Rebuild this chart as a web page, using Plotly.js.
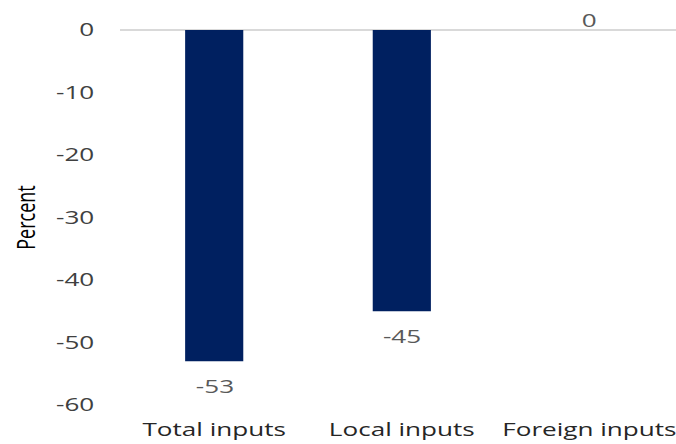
<!DOCTYPE html>
<html>
<head>
<meta charset="utf-8">
<script src="https://cdn.plot.ly/plotly-3.0.1.min.js"></script>
<style>
  html, body { margin: 0; padding: 0; background: #ffffff; overflow: hidden; }
  /* the chart is drawn narrow and stretched horizontally to the 676px frame */
  #chart { width: 471px; height: 444px; transform: scaleX(1.4506); transform-origin: 0 0; }
</style>
</head>
<body>
<div id="chart"></div>
<script>
// Change in inputs, percent
const categories = ["Total inputs", "Local inputs", "Foreign inputs"];
const values = [-53, -45, 0];
const yTicks = [0, -10, -20, -30, -40, -50, -60];

const FONT = "Open Sans, sans-serif";

const trace = {
  type: "bar",
  x: categories,
  y: values,
  marker: { color: "#002060" },
  hoverinfo: "x+y"
};

// value labels placed just past the end of each bar
const labels = categories.map((c, i) => ({
  x: c,
  y: values[i],
  xref: "x",
  yref: "y",
  text: String(values[i]),
  showarrow: false,
  yanchor: "middle",
  yshift: values[i] < 0 ? -25 : 10,
  font: { family: FONT, size: 18, color: "#595959" }
}));

const layout = {
  width: 471,
  height: 444,
  margin: { l: 83, r: 0, t: 30, b: 39 },
  paper_bgcolor: "#ffffff",
  plot_bgcolor: "#ffffff",
  bargap: 0.69,
  showlegend: false,
  font: { family: FONT, color: "#404040" },
  annotations: labels,
  xaxis: {
    showgrid: false,
    showline: false,
    zeroline: false,
    ticks: "",
    ticklabelstandoff: 12,
    tickfont: { size: 18, color: "#262626" }
  },
  yaxis: {
    range: [-60, 0],
    tickvals: yTicks,
    ticktext: yTicks.map(v => String(v)),
    showgrid: false,
    zeroline: true,
    zerolinecolor: "#d9d9d9",
    zerolinewidth: 2,
    showline: false,
    ticks: "",
    ticklabelstandoff: 17,
    tickfont: { size: 18, color: "#404040" },
    title: { text: "Percent", font: { size: 18, color: "#000000" }, standoff: 9 }
  }
};

Plotly.newPlot("chart", [trace], layout, { displayModeBar: false, staticPlot: true });
</script>
</body>
</html>
